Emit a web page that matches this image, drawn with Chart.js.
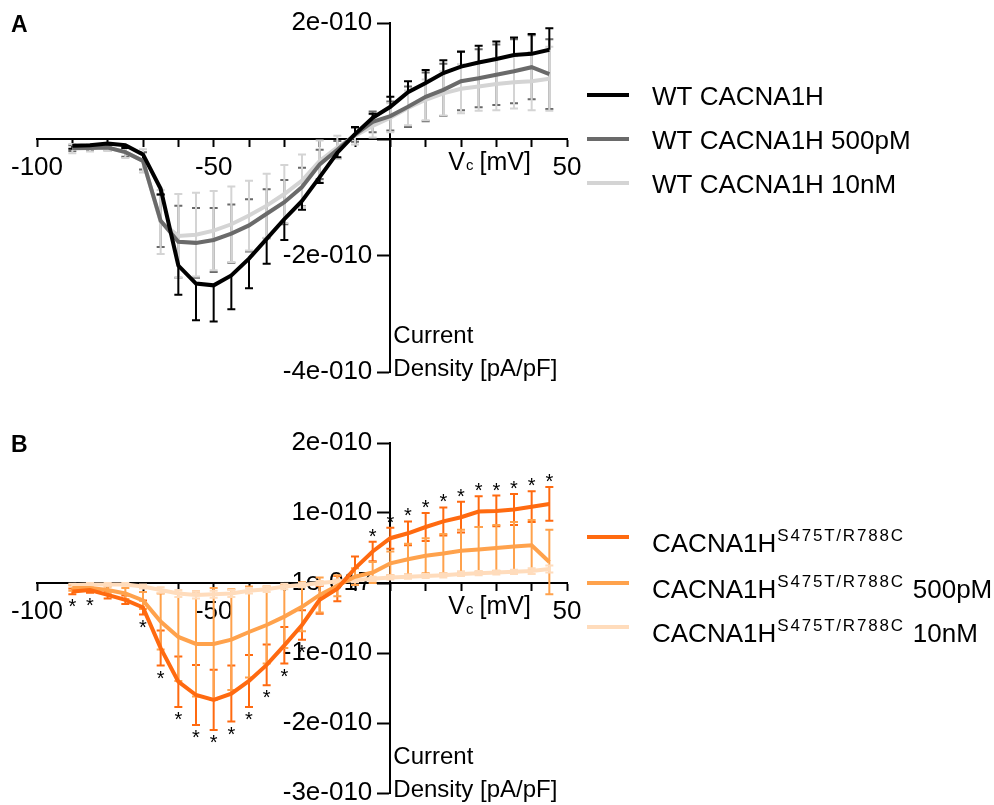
<!DOCTYPE html>
<html>
<head>
<meta charset="utf-8">
<script src="https://cdn.jsdelivr.net/npm/chart.js@4.4.1/dist/chart.umd.min.js"></script>
<style>
html, body { margin: 0; padding: 0; background: #fff; overflow: hidden; }
canvas { position: absolute; left: 0; }
#chartA { top: 0; }
#chartB { top: 420px; }
</style>
</head>
<body>
<canvas id="chartA" width="994" height="420"></canvas>
<canvas id="chartB" width="994" height="400"></canvas>
<script>
// command voltage (mV)
var voltages = [-90,-85,-80,-75,-70,-65,-60,-55,-50,-45,-40,-35,-30,-25,-20,-15,-10,-5,0,5,10,15,20,25,30,35,40,45];

// current density, in units of 1e-010 (as on the axes)
// panel A
var wt       = [-0.11,-0.10,-0.07,-0.10,-0.26,-0.85,-2.17,-2.48,-2.51,-2.34,-2.05,-1.71,-1.37,-1.06,-0.65,-0.23,0.09,0.37,0.56,0.81,0.97,1.14,1.25,1.32,1.38,1.45,1.47,1.54];
var wtErr    = [0.05,0.05,0.05,0.05,0.08,0.10,0.50,0.63,0.62,0.58,0.51,0.43,0.36,0.15,0.10,0.08,0.12,0.07,0.17,0.19,0.22,0.22,0.26,0.29,0.30,0.30,0.34,0.37];
var wt500    = [-0.15,-0.15,-0.14,-0.22,-0.37,-1.40,-1.76,-1.78,-1.73,-1.62,-1.48,-1.28,-1.08,-0.82,-0.43,-0.18,0.08,0.30,0.40,0.56,0.73,0.85,1.00,1.05,1.11,1.17,1.24,1.12];
var wt500Err = [0.05,0.05,0.05,0.08,0.15,0.45,0.62,0.60,0.55,0.50,0.45,0.42,0.38,0.33,0.25,0.15,0.12,0.18,0.25,0.35,0.42,0.45,0.50,0.50,0.52,0.55,0.55,0.60];
var wt10     = [-0.16,-0.15,-0.14,-0.22,-0.37,-1.42,-1.66,-1.64,-1.57,-1.46,-1.31,-1.14,-0.94,-0.71,-0.37,-0.14,0.06,0.23,0.37,0.54,0.68,0.79,0.87,0.91,0.95,0.98,1.00,1.04];
var wt10Err  = [0.08,0.06,0.06,0.10,0.20,0.55,0.72,0.72,0.68,0.65,0.60,0.55,0.50,0.45,0.35,0.20,0.15,0.20,0.25,0.30,0.35,0.38,0.42,0.42,0.45,0.45,0.50,0.55];

// panel B
var mut       = [-0.12,-0.10,-0.17,-0.24,-0.35,-0.93,-1.41,-1.60,-1.67,-1.58,-1.40,-1.17,-0.89,-0.60,-0.24,-0.08,0.21,0.45,0.64,0.71,0.80,0.88,0.94,1.02,1.03,1.05,1.09,1.13];
var mutErr    = [0.04,0.04,0.05,0.06,0.10,0.25,0.36,0.43,0.43,0.40,0.37,0.29,0.26,0.21,0.20,0.18,0.17,0.14,0.15,0.17,0.20,0.20,0.22,0.22,0.22,0.22,0.22,0.24];
var mut500    = [-0.07,-0.07,-0.10,-0.15,-0.25,-0.55,-0.77,-0.87,-0.87,-0.81,-0.70,-0.60,-0.48,-0.34,-0.17,-0.04,0.09,0.15,0.28,0.34,0.39,0.42,0.46,0.48,0.50,0.52,0.54,0.30];
var mut500Err = [0.04,0.04,0.05,0.08,0.12,0.40,0.63,0.75,0.80,0.72,0.65,0.55,0.45,0.35,0.25,0.15,0.12,0.15,0.17,0.22,0.25,0.28,0.30,0.32,0.33,0.35,0.36,0.46];
var mut10     = [-0.03,-0.02,-0.02,-0.02,-0.05,-0.10,-0.15,-0.17,-0.16,-0.15,-0.11,-0.09,-0.05,-0.03,0.00,0.02,0.04,0.06,0.08,0.09,0.10,0.11,0.13,0.14,0.15,0.16,0.17,0.20];
var mut10Err  = [0.02,0.02,0.02,0.02,0.03,0.04,0.05,0.05,0.05,0.05,0.04,0.04,0.04,0.03,0.03,0.03,0.03,0.03,0.03,0.03,0.03,0.03,0.03,0.03,0.03,0.03,0.04,0.05];
var mutStars  = ['*','*','','','*','*','*','*','*','*','*','*','*','*','','','','*','*','*','*','*','*','*','*','*','*','*'];

// axis ticks
var xTickLabels = ['-100','','','','','-50','','','','','','','','','','50'];
var yTicksA = [-4, -2, 0, 2];
var yLabelsA = ['-4e-010', '-2e-010', '', '2e-010'];
var yTicksB = [-3, -2, -1, 0, 1, 2];
var yLabelsB = ['-3e-010', '-2e-010', '-1e-010', '-1e-017', '1e-010', '2e-010'];

// legend text
var legendA = ['WT CACNA1H', 'WT CACNA1H 500pM', 'WT CACNA1H 10nM'];
var legendBaseB = 'CACNA1H';
var legendSupB = 'S475T/R788C';
var legendTailB = ['', '500pM', '10nM'];

var FONT = '"Liberation Sans", Arial, sans-serif';

function points(ys) {
	return voltages.map(function (v, i) { return {x: v, y: ys[i]}; });
}

function series(label, ys, errs, color, mode, stars) {
	return {
		label: label,
		data: points(ys),
		errors: errs,
		errMode: mode,
		stars: stars || null,
		borderColor: color,
		borderWidth: 4,
		pointRadius: 0,
		tension: 0,
		fill: false
	};
}

function drawErrorBars(chart, ds) {
	var ctx = chart.ctx, xs = chart.scales.x, ys = chart.scales.y;
	ctx.save();
	ctx.strokeStyle = ds.borderColor;
	ctx.lineWidth = 2;
	ds.data.forEach(function (p, i) {
		var e = ds.errors[i], lo = p.y - e, hi = p.y + e;
		if (ds.errMode === 'away') {
			if (p.y < 0) hi = p.y; else lo = p.y;
		}
		var px = xs.getPixelForValue(p.x);
		var y1 = ys.getPixelForValue(hi), y2 = ys.getPixelForValue(lo);
		ctx.beginPath();
		ctx.moveTo(px, y1); ctx.lineTo(px, y2);
		if (ds.errMode !== 'away' || p.y < 0) { ctx.moveTo(px - 4, y2); ctx.lineTo(px + 4, y2); }
		if (ds.errMode !== 'away' || p.y >= 0) { ctx.moveTo(px - 4, y1); ctx.lineTo(px + 4, y1); }
		ctx.stroke();
	});
	ctx.restore();
}

function drawStars(chart) {
	var ctx = chart.ctx, xs = chart.scales.x, ys = chart.scales.y;
	ctx.save();
	ctx.font = '20px ' + FONT;
	ctx.fillStyle = '#000';
	ctx.textAlign = 'center';
	ctx.textBaseline = 'alphabetic';
	chart.data.datasets.forEach(function (ds) {
		if (!ds.stars) return;
		ds.data.forEach(function (p, i) {
			if (!ds.stars[i]) return;
			var px = xs.getPixelForValue(p.x);
			if (p.y < 0) {
				ctx.fillText(ds.stars[i], px, ys.getPixelForValue(p.y - ds.errors[i]) + 19);
			} else {
				ctx.fillText(ds.stars[i], px, ys.getPixelForValue(p.y + ds.errors[i]) + 1);
			}
		});
	});
	ctx.restore();
}

function overlay(cfg) {
	return {
		id: 'overlay',
		beforeDatasetsDraw: function (chart) {
			var ctx = chart.ctx, ys = chart.scales.y;
			var axisX = chart.scales.x.getPixelForValue(0);
			ctx.save();
			ctx.font = '26px ' + FONT;
			ctx.fillStyle = '#000';
			ctx.textAlign = 'right';
			ctx.textBaseline = 'middle';
			cfg.yTicks.forEach(function (v, i) {
				ctx.fillText(cfg.yLabels[i], axisX - 18, ys.getPixelForValue(v));
			});
			ctx.restore();
			// error bars sit under all of the mean lines
			cfg.barOrder.forEach(function (k) {
				drawErrorBars(chart, chart.data.datasets[k]);
			});
		},
		afterDatasetsDraw: function (chart) {
			drawStars(chart);
		},
		afterDraw: function (chart) {
			var ctx = chart.ctx, area = chart.chartArea;
			var axisX = chart.scales.x.getPixelForValue(0);
			var axisY = chart.scales.y.getPixelForValue(0);
			ctx.save();
			ctx.fillStyle = '#000';
			ctx.textAlign = 'left';
			ctx.textBaseline = 'alphabetic';

			// panel letter
			ctx.font = 'bold 23px ' + FONT;
			ctx.fillText(cfg.letter, 11, 32);

			// x title: Vc [mV]
			var tx = axisX + 58, ty = axisY + 31;
			ctx.font = '25px ' + FONT;
			ctx.fillText('V', tx, ty);
			tx += ctx.measureText('V').width + 1;
			ctx.font = '15px ' + FONT;
			ctx.fillText('c', tx, ty);
			tx += ctx.measureText('c').width + 6;
			ctx.font = '25px ' + FONT;
			ctx.fillText('[mV]', tx, ty);

			// y title
			ctx.font = '24px ' + FONT;
			ctx.fillText('Current', axisX + 3, area.bottom - 29);
			ctx.fillText('Density [pA/pF]', axisX + 3, area.bottom + 4);

			// legend
			chart.data.datasets.forEach(function (ds, i) {
				var ly = cfg.legendY[i];
				ctx.strokeStyle = ds.borderColor;
				ctx.lineWidth = 4;
				ctx.beginPath();
				ctx.moveTo(587, ly);
				ctx.lineTo(629, ly);
				ctx.stroke();
				cfg.drawLabel(ctx, i, 652, ly);
			});
			ctx.restore();
		}
	};
}

function makePanel(id, datasets, cfg) {
	return new Chart(document.getElementById(id), {
		type: 'line',
		data: { datasets: datasets },
		options: {
			responsive: false,
			animation: false,
			events: [],
			layout: { padding: cfg.padding },
			plugins: { legend: { display: false }, tooltip: { enabled: false } },
			scales: {
				x: {
					type: 'linear',
					min: -100,
					max: 50,
					position: { y: 0 },
					border: { color: '#000', width: 2 },
					grid: { drawOnChartArea: false, color: '#000', tickLength: 7, tickWidth: 2 },
					ticks: {
						stepSize: 10,
						autoSkip: false,
						maxRotation: 0,
						padding: 6,
						color: '#000',
						font: { family: FONT, size: 26 },
						callback: function (v, i) { return xTickLabels[i]; }
					}
				},
				y: {
					type: 'linear',
					min: cfg.yTicks[0],
					max: cfg.yTicks[cfg.yTicks.length - 1],
					position: { x: 0 },
					border: { color: '#000', width: 2 },
					grid: { drawOnChartArea: false, color: '#000', tickLength: 12, tickWidth: 2 },
					ticks: { stepSize: cfg.yStep, display: false }
				}
			}
		},
		plugins: [overlay(cfg)]
	});
}

makePanel('chartA', [
	series('WT CACNA1H', wt, wtErr, '#000000', 'away'),
	series('WT CACNA1H 500pM', wt500, wt500Err, '#6a6a6a', 'both'),
	series('WT CACNA1H 10nM', wt10, wt10Err, '#d4d4d4', 'both')
], {
	letter: 'A',
	padding: { left: 37, right: 427, top: 23, bottom: 48 },
	yTicks: yTicksA,
	yLabels: yLabelsA,
	yStep: 2,
	barOrder: [1, 2, 0],
	legendY: [95, 139, 183],
	drawLabel: function (ctx, i, x, y) {
		ctx.font = '26px ' + FONT;
		ctx.fillText(legendA[i], x, y + 10);
	}
});

makePanel('chartB', [
	series('CACNA1H S475T/R788C', mut, mutErr, '#ff6a10', 'both', mutStars),
	series('CACNA1H S475T/R788C 500pM', mut500, mut500Err, '#ffa24c', 'both'),
	series('CACNA1H S475T/R788C 10nM', mut10, mut10Err, '#ffdcbc', 'both')
], {
	letter: 'B',
	padding: { left: 37, right: 427, top: 23, bottom: 27 },
	yTicks: yTicksB,
	yLabels: yLabelsB,
	yStep: 1,
	barOrder: [0, 1, 2],
	legendY: [117, 163, 207],
	drawLabel: function (ctx, i, x, y) {
		ctx.font = '26px ' + FONT;
		ctx.fillText(legendBaseB, x, y + 15);
		x += ctx.measureText(legendBaseB).width + 1;
		ctx.font = '17px ' + FONT;
		ctx.letterSpacing = '1.8px';
		ctx.fillText(legendSupB, x, y + 4);
		x += ctx.measureText(legendSupB).width + 8;
		ctx.letterSpacing = '0px';
		ctx.font = '26px ' + FONT;
		if (legendTailB[i]) ctx.fillText(legendTailB[i], x, y + 15);
	}
});
</script>
</body>
</html>
